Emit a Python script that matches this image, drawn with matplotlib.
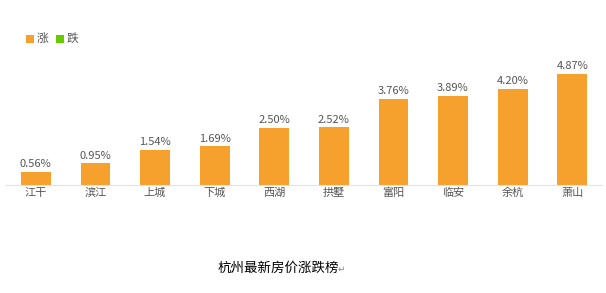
import matplotlib
matplotlib.use("Agg")
import matplotlib.pyplot as plt
from matplotlib.patches import Rectangle

plt.rcParams['font.family'] = ['Noto Sans CJK SC', 'DejaVu Sans']

categories = ['江干', '滨江', '上城', '下城', '西湖', '拱墅', '富阳', '临安', '余杭', '萧山']
values = [0.56, 0.95, 1.54, 1.69, 2.50, 2.52, 3.76, 3.89, 4.20, 4.87]
labels = ['0.56%', '0.95%', '1.54%', '1.69%', '2.50%', '2.52%', '3.76%', '3.89%', '4.20%', '4.87%']
legend_names = ['涨', '跌']
title = '杭州最新房价涨跌榜'

W, H = 606, 293
fig = plt.figure(figsize=(W / 100, H / 100), dpi=100)
left_px, right_px, bottom_px, top_px = 6, 602, 185, 48
ax = fig.add_axes([left_px / W, 1 - bottom_px / H, (right_px - left_px) / W, (bottom_px - top_px) / H])

orange = '#F6A02D'
green = '#66CC00'
x = range(len(categories))
bars = ax.bar(x, values, width=0.5, color=orange, edgecolor='none', zorder=2)
for b, lab in zip(bars, labels):
    ax.annotate(lab, (b.get_x() + b.get_width() / 2, b.get_height()), xytext=(0, 2),
                textcoords='offset points', ha='center', va='bottom', fontsize=8, color='#555555')

ax.set_xlim(-0.5, len(categories) - 0.5)
ax.set_ylim(0, 6)
ax.set_xticks(list(x))
ax.set_xticklabels(categories, fontsize=8, color='#555555')
ax.tick_params(axis='x', length=0, pad=2)
ax.set_yticks([])
for s in ['top', 'right', 'left']:
    ax.spines[s].set_visible(False)
ax.spines['bottom'].set_color('#e3e3e3')
ax.spines['bottom'].set_linewidth(0.8)

# legend
for i, (name, col) in enumerate(zip(legend_names, [orange, green])):
    x0 = 26 + i * 30
    fig.patches.append(Rectangle((x0 / W, 1 - 43 / H), 8 / W, 8 / H, transform=fig.transFigure,
                                 facecolor=col, edgecolor='none'))
    fig.text((x0 + 11) / W, 1 - 38.5 / H, name, fontsize=8.5, color='#555555', va='center', ha='left')

fig.text(278.5 / W, 1 - 268 / H, title, fontsize=9.7, color='#000000', ha='center', va='center')
fig.text(338 / W, 1 - 269 / H, '↵', fontsize=6.5, color='#888888', ha='left', va='center',
         family=['DejaVu Sans'])

fig.savefig('out.png', dpi=100)
